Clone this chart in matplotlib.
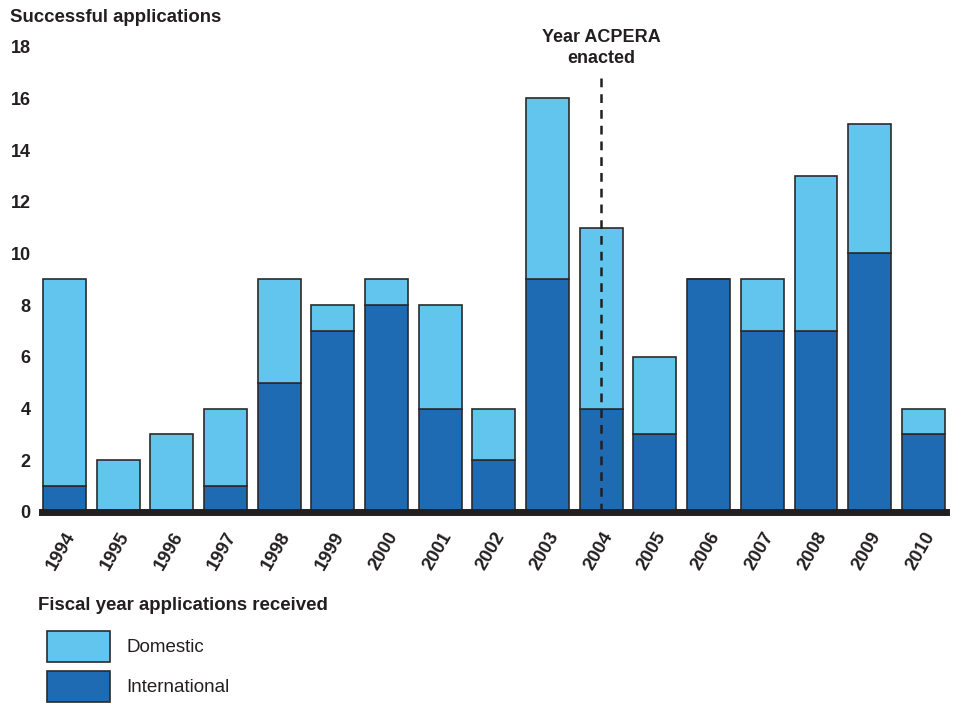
import matplotlib
matplotlib.use("Agg")
import matplotlib.pyplot as plt
from matplotlib.patches import Rectangle

years = ["1994", "1995", "1996", "1997", "1998", "1999", "2000", "2001", "2002",
         "2003", "2004", "2005", "2006", "2007", "2008", "2009", "2010"]
international = [1, 0, 0, 1, 5, 7, 8, 4, 2, 9, 4, 3, 9, 7, 7, 10, 3]
domestic = [8, 2, 3, 3, 4, 1, 1, 4, 2, 7, 7, 3, 0, 2, 6, 5, 1]
yticks = [0, 2, 4, 6, 8, 10, 12, 14, 16, 18]
enacted_year = "2004"

plt.rcParams['font.family'] = ['Liberation Sans', 'DejaVu Sans']

C_DOM = "#62c5ee"
C_INT = "#1f6bb3"
EDGE = "#2b2b2b"
TXT = "#231f20"

fig = plt.figure(figsize=(9.56, 7.03), dpi=100)
ax = fig.add_axes([0.0439, 0.2717, 0.9461, 0.6619])

x = list(range(len(years)))
w = 0.80
ax.bar(x, international, width=w, color=C_INT, edgecolor=EDGE, linewidth=1.2, zorder=2)
ax.bar(x, domestic, width=w, bottom=international, color=C_DOM, edgecolor=EDGE,
       linewidth=1.2, zorder=2)

ax.set_xlim(-0.42, len(years) - 1 + 0.43)
ax.set_ylim(0, 18)
for s in ["top", "right", "left"]:
    ax.spines[s].set_visible(False)
ax.spines["bottom"].set_linewidth(5)
ax.spines["bottom"].set_color(TXT)
ax.spines["bottom"].set_zorder(3)

ax.set_yticks(yticks)
ax.set_yticklabels([str(v) for v in yticks], fontsize=13, fontweight="bold", color=TXT)
ax.tick_params(axis="y", length=0, pad=8)
ax.set_xticks(x)
ax.set_xticklabels(years, rotation=60, ha="right", rotation_mode="anchor",
                   fontsize=13.3, fontweight="bold", color=TXT)
ax.tick_params(axis="x", length=0, pad=12)

xi = years.index(enacted_year)
ax.plot([xi, xi], [0, 16.8], color=TXT, linewidth=1.8, linestyle=(0, (3.5, 2.8)), zorder=4)
ax.text(xi, 17.95, "Year ACPERA\nenacted", ha="center", va="center", fontsize=13,
        fontweight="bold", color=TXT, linespacing=1.25)

fig.text(10/956, 1 - 17/703, "Successful applications", ha="left", va="center",
         fontsize=13.4, fontweight="bold", color=TXT)

fig.text(38/956, 1 - 605/703, "Fiscal year applications received", ha="left", va="center",
         fontsize=13.4, fontweight="bold", color=TXT)

for (label, col, ytop) in [("Domestic", C_DOM, 631), ("International", C_INT, 671)]:
    r = Rectangle((47/956, 1 - (ytop + 31)/703), 63/956, 31/703, transform=fig.transFigure,
                  facecolor=col, edgecolor=EDGE, linewidth=1.2)
    fig.patches.append(r)
    fig.text(126/956, 1 - (ytop + 17)/703, label, ha="left", va="center", fontsize=13.5,
             color=TXT)

fig.savefig("out.png", dpi=100)
